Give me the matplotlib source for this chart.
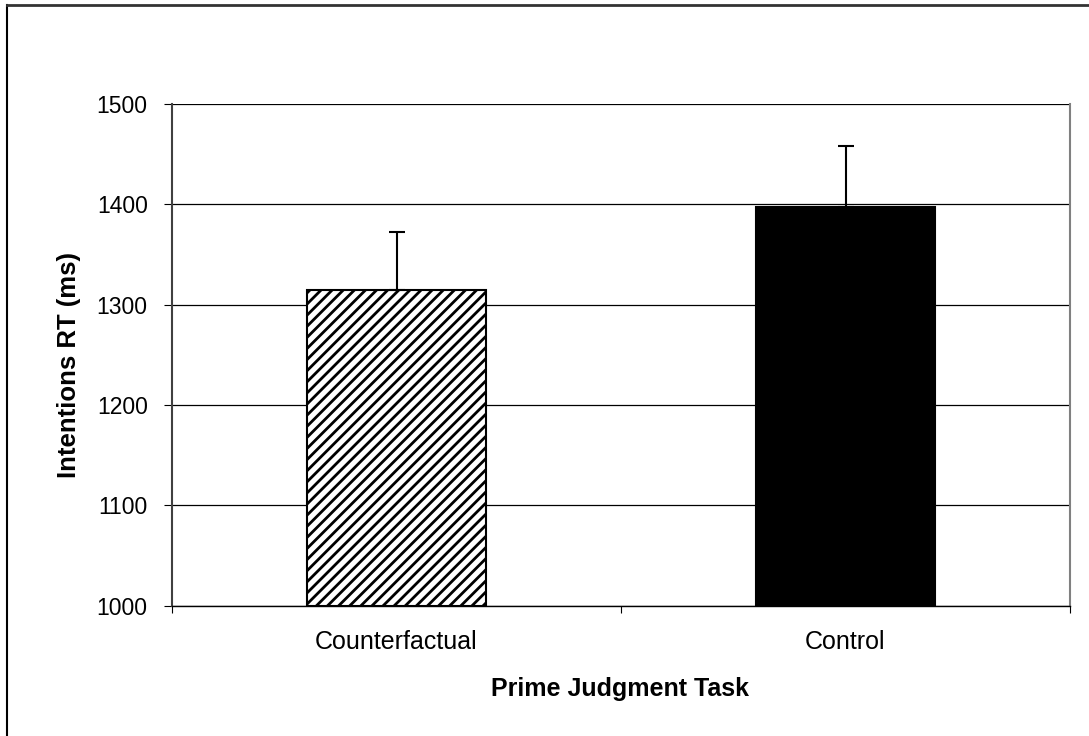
import matplotlib
matplotlib.use("Agg")
import matplotlib.pyplot as plt
from matplotlib.lines import Line2D
from matplotlib.transforms import blended_transform_factory

plt.rcParams['font.family'] = ['Liberation Sans', 'DejaVu Sans']
plt.rcParams['hatch.linewidth'] = 2.0

categories = ["Counterfactual", "Control"]
means = [1315, 1397]
errors = [57, 61]
yticks = [1000, 1100, 1200, 1300, 1400, 1500]
xlabel = "Prime Judgment Task"
ylabel = "Intentions RT (ms)"

W, H = 1089, 736
fig = plt.figure(figsize=(W / 100, H / 100), dpi=100)
ax = fig.add_axes([172 / W, 1 - 605.7 / H, (1070 - 172) / W, (605.7 - 104) / H])

# outer chart border (left and top visible)
fig.add_artist(Line2D([7 / W, 7 / W], [0, 1 - 5 / H], transform=fig.transFigure, color='black', lw=1.5))
fig.add_artist(Line2D([7 / W, 1], [1 - 5 / H, 1 - 5 / H], transform=fig.transFigure, color='#333333', lw=2))

x = list(range(len(categories)))
ax.set_axisbelow(True)
ax.yaxis.grid(True, color='black', lw=0.9)

bars = ax.bar(x, [m - 1000 for m in means], bottom=1000, width=0.4,
              color=['white', 'black'], edgecolor='black', linewidth=1.5)
bars[0].set_hatch('///')
ax.errorbar(x, means, yerr=[[0, 0], errors], fmt='none', ecolor='black',
            elinewidth=1.5, capsize=6, capthick=1.5)

ax.set_xlim(-0.5, 1.5)
ax.set_ylim(1000, 1500)
ax.set_yticks(yticks)
ax.set_yticklabels([str(v) for v in yticks], fontsize=16.5)
ax.set_xticks([-0.5, 0.5, 1.5])
ax.set_xticklabels([])
ax.tick_params(axis='x', length=5, direction='out', width=0.8)
ax.tick_params(axis='y', length=6, direction='out', width=0.8, pad=11.5)

# category labels
tr = blended_transform_factory(ax.transData, fig.transFigure)
for xi, c in zip(x, categories):
    ax.text(xi, 1 - 642 / H, c, transform=tr, ha='center', va='center', fontsize=18)

ax.spines['top'].set_visible(False)
ax.spines['right'].set_color('#808080')
ax.spines['right'].set_linewidth(1.5)
ax.spines['left'].set_color('#404040')
ax.spines['left'].set_linewidth(1.5)
ax.spines['bottom'].set_color('black')
ax.spines['bottom'].set_linewidth(1)

fig.text(620 / W, 1 - 689 / H, xlabel, ha='center', va='center', fontsize=18, fontweight='bold')
fig.text(69 / W, 1 - 365 / H, ylabel, ha='center', va='center', fontsize=18.5, fontweight='bold', rotation=90)

fig.savefig("out.png", dpi=100)
